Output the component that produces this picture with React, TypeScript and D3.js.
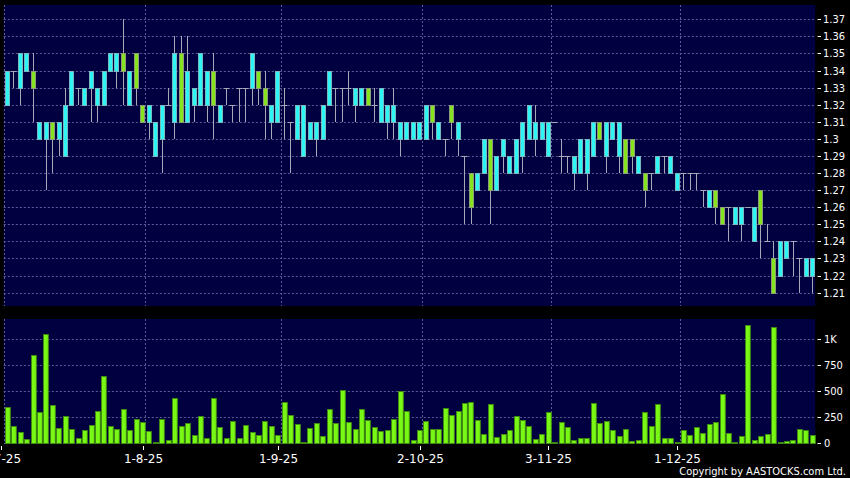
import React from "react";
import * as d3 from "d3";

// ---- data ----
const openP = [1.32,1.34,1.33,1.34,1.34,1.30,1.30,1.31,1.30,1.29,1.32,1.33,1.32,1.33,1.32,1.32,1.34,1.34,1.35,1.32,1.35,1.32,1.31,1.29,1.30,1.32,1.31,1.35,1.31,1.32,1.32,1.32,1.34,1.31,1.33,1.32,1.33,1.33,1.33,1.34,1.33,1.31,1.31,1.32,1.31,1.30,1.29,1.30,1.30,1.30,1.32,1.33,1.33,1.33,1.32,1.32,1.33,1.32,1.31,1.31,1.31,1.30,1.30,1.30,1.30,1.30,1.32,1.30,1.30,1.32,1.30,1.29,1.28,1.27,1.28,1.30,1.27,1.29,1.28,1.28,1.29,1.30,1.30,1.30,1.29,1.31,1.29,1.29,1.28,1.28,1.28,1.29,1.31,1.29,1.30,1.29,1.30,1.30,1.28,1.28,1.28,1.28,1.29,1.28,1.27,1.28,1.28,1.28,1.27,1.26,1.27,1.26,1.26,1.25,1.25,1.26,1.24,1.27,1.24,1.23,1.22,1.23,1.24,1.23,1.22,1.22];
const highP = [1.34,1.34,1.35,1.35,1.35,1.31,1.31,1.31,1.31,1.33,1.34,1.33,1.33,1.34,1.33,1.34,1.35,1.35,1.37,1.34,1.35,1.32,1.32,1.31,1.32,1.33,1.36,1.36,1.36,1.33,1.35,1.34,1.35,1.32,1.33,1.32,1.33,1.33,1.35,1.34,1.34,1.32,1.34,1.33,1.31,1.32,1.32,1.31,1.31,1.32,1.34,1.33,1.33,1.34,1.33,1.33,1.33,1.33,1.33,1.32,1.33,1.31,1.31,1.31,1.31,1.32,1.32,1.31,1.30,1.32,1.31,1.29,1.28,1.28,1.30,1.30,1.29,1.30,1.29,1.30,1.31,1.32,1.32,1.31,1.31,1.31,1.30,1.29,1.29,1.30,1.30,1.31,1.31,1.31,1.31,1.31,1.30,1.30,1.29,1.28,1.28,1.29,1.29,1.29,1.28,1.28,1.28,1.28,1.27,1.27,1.27,1.26,1.26,1.26,1.26,1.26,1.26,1.27,1.25,1.24,1.24,1.24,1.24,1.23,1.23,1.23];
const lowP = [1.32,1.33,1.32,1.34,1.31,1.30,1.27,1.28,1.29,1.29,1.32,1.32,1.32,1.31,1.31,1.32,1.34,1.33,1.32,1.32,1.32,1.31,1.30,1.29,1.28,1.32,1.30,1.31,1.31,1.31,1.32,1.31,1.30,1.31,1.32,1.31,1.31,1.31,1.32,1.32,1.30,1.30,1.31,1.30,1.28,1.30,1.29,1.30,1.29,1.30,1.32,1.31,1.31,1.32,1.31,1.32,1.32,1.31,1.31,1.30,1.30,1.29,1.30,1.30,1.30,1.30,1.30,1.30,1.29,1.30,1.29,1.25,1.25,1.27,1.28,1.25,1.27,1.28,1.28,1.28,1.28,1.30,1.29,1.30,1.29,1.31,1.28,1.28,1.27,1.28,1.27,1.29,1.30,1.28,1.30,1.28,1.28,1.28,1.28,1.26,1.27,1.28,1.28,1.28,1.27,1.27,1.27,1.27,1.26,1.26,1.25,1.25,1.24,1.25,1.24,1.26,1.24,1.23,1.24,1.21,1.22,1.23,1.22,1.21,1.22,1.21];
const closeP = [1.34,1.34,1.35,1.35,1.33,1.31,1.31,1.30,1.31,1.32,1.34,1.33,1.33,1.34,1.33,1.34,1.35,1.35,1.34,1.34,1.33,1.31,1.32,1.31,1.32,1.32,1.35,1.31,1.34,1.33,1.35,1.34,1.32,1.32,1.33,1.32,1.33,1.33,1.35,1.33,1.32,1.32,1.34,1.32,1.31,1.32,1.32,1.31,1.31,1.32,1.34,1.33,1.33,1.33,1.33,1.33,1.32,1.32,1.33,1.32,1.32,1.31,1.31,1.31,1.31,1.32,1.31,1.31,1.30,1.31,1.31,1.29,1.26,1.28,1.30,1.27,1.29,1.30,1.29,1.30,1.31,1.32,1.31,1.31,1.31,1.31,1.29,1.29,1.29,1.30,1.30,1.31,1.30,1.31,1.31,1.31,1.28,1.29,1.29,1.27,1.28,1.29,1.29,1.29,1.28,1.28,1.28,1.28,1.27,1.27,1.26,1.25,1.26,1.26,1.26,1.26,1.26,1.25,1.24,1.21,1.24,1.24,1.24,1.23,1.23,1.23];
const volumes = [347,169,112,45,848,296,1042,367,147,261,140,54,124,175,309,644,169,140,328,131,236,207,118,10,233,32,430,169,194,80,258,54,437,153,54,210,54,172,108,76,214,169,80,398,274,188,3,147,194,70,325,191,510,207,140,328,223,156,118,127,233,497,309,32,124,214,140,134,341,271,309,386,395,220,89,373,61,89,131,265,220,166,45,86,300,10,204,156,32,48,54,386,198,214,124,70,137,22,29,300,169,379,48,51,10,127,83,156,102,188,204,472,102,10,67,1131,35,70,89,1112,10,19,29,137,127,80];

const monthTickIndex = [0, 22, 43, 65, 85, 105];
const monthTickLabels = ["2-7-25", "1-8-25", "1-9-25", "2-10-25", "3-11-25", "1-12-25"];
const priceTicks = [1.21,1.22,1.23,1.24,1.25,1.26,1.27,1.28,1.29,1.30,1.31,1.32,1.33,1.34,1.35,1.36,1.37];
const volTicks = [0, 250, 500, 750, 1000];
const volTickLabels = ["0", "250", "500", "750", "1K"];

const W = 850, H = 478;
const PLOT_L = 3.8, PLOT_R = 815.2;
const P_TOP = 5, P_BOT = 306;
const V_TOP = 319, V_BOT = 444;

const BG = "#000040";
const GRID = "#5c5c96";
const CYAN = "#2ef4f4";
const CYAN_STROKE = "#7ab8c0";
const GREEN = "#86e41e";
const GREEN_STROKE = "#8c9c78";
const WICK = "#a8a8b8";
const VOL_FILL = "#78f814";
const VOL_STROKE = "#3f8a10";
const TEXT = "#ffffff";

export default function App() {
  const idx = d3.range(openP.length);
  const x = d3.scaleBand<number>().domain(idx).range([PLOT_L, PLOT_R]).padding(0);
  const step = x.step();
  const yP = d3.scaleLinear().domain([1.20217, 1.37837]).range([P_BOT, P_TOP]);
  const yV = d3.scaleLinear().domain([0, 1191]).range([443.3, 318.7]);
  const cx = (i: number) => Math.round((x(i) as number) + step / 2) + 0.5;

  const labelFont = "'DejaVu Sans', sans-serif";
  const condFont = "'DejaVu Sans Condensed', 'DejaVu Sans', sans-serif";

  return (
    <svg width={W} height={H} style={{ position: "absolute", left: 0, top: 0, background: "#000" }}>
      <rect x={0} y={0} width={W} height={H} fill="#000" />
      <rect x={PLOT_L} y={P_TOP} width={PLOT_R - PLOT_L} height={P_BOT - P_TOP} fill={BG} />
      <rect x={PLOT_L} y={V_TOP} width={PLOT_R - PLOT_L} height={V_BOT - V_TOP} fill={BG} />

      {/* price grid */}
      {priceTicks.map((p) => (
        <line key={"pg" + p} x1={PLOT_L} x2={PLOT_R} y1={Math.round(yP(p)) + 0.5} y2={Math.round(yP(p)) + 0.5}
          stroke={GRID} strokeDasharray="2,2" />
      ))}
      {monthTickIndex.map((i) => {
        const gx = Math.round(x(i) as number) + 0.5;
        return (
          <g key={"vg" + i}>
            <line x1={gx} x2={gx} y1={P_TOP} y2={P_BOT} stroke={GRID} strokeDasharray="2,2" />
            <line x1={gx} x2={gx} y1={V_TOP} y2={V_BOT} stroke={GRID} strokeDasharray="2,2" />
          </g>
        );
      })}
      {volTicks.slice(1).map((v) => (
        <line key={"vgl" + v} x1={PLOT_L} x2={PLOT_R} y1={Math.round(yV(v)) + 0.5} y2={Math.round(yV(v)) + 0.5}
          stroke={GRID} strokeDasharray="2,2" />
      ))}

      {/* candles */}
      {idx.map((i) => {
        const o = openP[i], c = closeP[i], h = highP[i], l = lowP[i];
        const xc = cx(i);
        const top = Math.round(yP(Math.max(o, c)));
        const bot = Math.round(yP(Math.min(o, c)));
        const wick = (
          <line x1={xc} x2={xc} y1={Math.round(yP(h))} y2={Math.round(yP(l))} stroke={WICK} strokeWidth={1} />
        );
        if (o === c) {
          return (
            <g key={"c" + i}>
              {wick}
              <line x1={xc - 3} x2={xc + 3} y1={top + 0.5} y2={top + 0.5} stroke={WICK} strokeWidth={1} />
            </g>
          );
        }
        const up = c > o;
        return (
          <g key={"c" + i}>
            {wick}
            <rect x={xc - 2} y={top + 0.5} width={4} height={bot - top}
              fill={up ? CYAN : GREEN} stroke={up ? CYAN_STROKE : GREEN_STROKE} strokeWidth={1} />
          </g>
        );
      })}

      {/* volume */}
      {idx.map((i) => {
        const xs = Math.round(x(i) as number) + 1;
        const yt = Math.round(yV(volumes[i]));
        const yb = 443;
        return (
          <rect key={"v" + i} x={xs + 0.5} y={Math.min(yt, yb - 1) + 0.5} width={step - 1.6}
            height={Math.max(1, yb - yt)} fill={VOL_FILL} stroke={VOL_STROKE} strokeWidth={1} />
        );
      })}

      {/* right price axis */}
      {priceTicks.map((p) => {
        const yy = Math.round(yP(p)) + 0.5;
        return (
          <g key={"pt" + p}>
            <line x1={817.5} x2={821} y1={yy} y2={yy} stroke={TEXT} />
            <text x={823} y={yy} dy="0.36em" fill={TEXT} fontSize={11} fontFamily={condFont}>
              {String(+p.toFixed(2))}
            </text>
          </g>
        );
      })}
      {volTicks.map((v, k) => {
        const yy = Math.round(yV(v)) + 0.5;
        return (
          <g key={"vt" + v}>
            <line x1={817.5} x2={821} y1={yy} y2={yy} stroke={TEXT} />
            <text x={824} y={yy} dy="0.36em" fill={TEXT} fontSize={11} fontFamily={condFont}>
              {volTickLabels[k]}
            </text>
          </g>
        );
      })}

      {/* bottom date axis */}
      {monthTickIndex.map((i, k) => {
        const tx = Math.round((x(i) as number) - 2.7) + 0.5;
        return (
          <g key={"dt" + i}>
            <line x1={tx} x2={tx} y1={446} y2={450} stroke={TEXT} />
            <text x={tx} y={462.5} textAnchor="middle" fill={TEXT} fontSize={12} fontFamily={labelFont}>
              {monthTickLabels[k]}
            </text>
          </g>
        );
      })}

      <text x={846} y={474.5} textAnchor="end" fill={TEXT} fontSize={11} fontFamily={condFont}>
        Copyright by AASTOCKS.com Ltd.
      </text>
    </svg>
  );
}
